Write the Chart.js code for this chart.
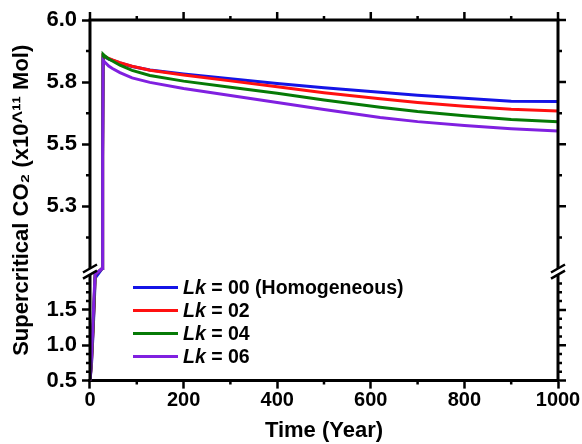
<!DOCTYPE html>
<html>
<head>
<meta charset="utf-8">
<script src="https://cdn.jsdelivr.net/npm/chart.js@4.4.0/dist/chart.umd.min.js"></script>
<style>
  html, body { margin: 0; padding: 0; background: #fff; }
  #wrap { position: relative; width: 582px; height: 444px; }
  #legend {
    position: absolute; left: 133px; top: 276px;
    font: bold 19.5px "Liberation Sans", Arial, sans-serif; color: #000;
  }
  .row { display: flex; align-items: center; height: 23px; white-space: nowrap; }
  .swatch { width: 45px; height: 3px; margin-right: 5px; }
</style>
</head>
<body>
<div id="wrap">
  <canvas id="co2Chart" width="582" height="444"></canvas>
  <div id="legend"></div>
</div>
<script>
// time axis (years)
var years = [0, 3, 6, 9, 11, 26, 27, 28, 32, 40, 48, 64, 90, 128, 200, 300, 400, 500, 620, 700, 800, 900, 1000];

// supercritical CO2 (x10^11 mol)
var lk00 = [0.5, 0.70, 1.10, 1.55, 1.95, 4.95, 5.45, 5.855, 5.850, 5.843, 5.838, 5.827, 5.813, 5.799, 5.783, 5.764, 5.744, 5.727, 5.709, 5.697, 5.685, 5.673, 5.672];
var lk02 = [0.5, 0.74, 1.15, 1.62, 2.02, 4.95, 5.46, 5.857, 5.853, 5.845, 5.839, 5.828, 5.814, 5.798, 5.779, 5.755, 5.731, 5.707, 5.683, 5.668, 5.653, 5.641, 5.634];
var lk04 = [0.5, 0.76, 1.18, 1.65, 2.05, 4.96, 5.48, 5.862, 5.855, 5.843, 5.835, 5.818, 5.797, 5.777, 5.754, 5.729, 5.705, 5.678, 5.649, 5.632, 5.615, 5.600, 5.591];
var lk06 = [0.5, 0.80, 1.25, 1.75, 2.10, 4.97, 5.45, 5.838, 5.830, 5.815, 5.805, 5.788, 5.767, 5.749, 5.724, 5.696, 5.668, 5.640, 5.608, 5.591, 5.575, 5.562, 5.553];

var seriesNames = ['00 (Homogeneous)', '02', '04', '06'];
var seriesColors = ['#1414e6', '#ff1010', '#067a06', '#8020e0'];

var yTickValues = [0.5, 1.0, 1.5, 5.25, 5.5, 5.75, 6.0];
var yMinorValues = [0.625, 0.75, 0.875, 1.125, 1.25, 1.375, 1.625, 1.75, 1.875, 5.125, 5.375, 5.625, 5.875];
var xMinorValues = [100, 300, 500, 700, 900];

Chart.defaults.font.family = '"Liberation Sans", Arial, sans-serif';
Chart.defaults.font.weight = 'bold';
Chart.defaults.color = '#000';

// linear scale with a cut between breakLow and breakHigh
class BrokenLinearScale extends Chart.LinearScale {
    static id = 'brokenLinear';

    _weights() {
        var o = this.options;
        return [o.lowWeight, o.gapWeight, o.highWeight];
    }

    getPixelForValue(value) {
        if (value === null || value === undefined || isNaN(value)) return NaN;
        var o = this.options;
        var w = this._weights();
        var total = w[0] + w[1] + w[2];
        var d;
        if (value <= o.breakLow) {
            d = (value - this.min) / (o.breakLow - this.min) * w[0];
        } else if (value < o.breakHigh) {
            d = w[0] + (value - o.breakLow) / (o.breakHigh - o.breakLow) * w[1];
        } else {
            d = w[0] + w[1] + (value - o.breakHigh) / (this.max - o.breakHigh) * w[2];
        }
        return this.getPixelForDecimal(d / total);
    }

    getValueForPixel(pixel) {
        var o = this.options;
        var w = this._weights();
        var total = w[0] + w[1] + w[2];
        var d = this.getDecimalForPixel(pixel) * total;
        if (d <= w[0]) return this.min + d / w[0] * (o.breakLow - this.min);
        if (d < w[0] + w[1]) return o.breakLow + (d - w[0]) / w[1] * (o.breakHigh - o.breakLow);
        return o.breakHigh + (d - w[0] - w[1]) / w[2] * (this.max - o.breakHigh);
    }
}
Chart.register(BrokenLinearScale);

function pointsFor(values) {
    return years.map(function (t, i) { return { x: t, y: values[i] }; });
}

var framePlugin = {
    id: 'frame',
    afterDraw: function (chart) {
        var ctx = chart.ctx;
        var a = chart.chartArea;
        var x = chart.scales.x;
        var y = chart.scales.y;
        var yHi = y.getPixelForValue(y.options.breakHigh);
        var yLo = y.getPixelForValue(y.options.breakLow);

        ctx.save();
        ctx.strokeStyle = '#000';
        ctx.lineCap = 'butt';

        // frame lines
        ctx.lineWidth = 3;
        ctx.beginPath();
        ctx.moveTo(a.left - 1.5, a.top); ctx.lineTo(a.right + 1.5, a.top);
        [a.left, a.right].forEach(function (px) {
            ctx.moveTo(px, a.top); ctx.lineTo(px, yHi);
            ctx.moveTo(px, yLo); ctx.lineTo(px, a.bottom);
        });
        ctx.stroke();

        // ticks
        ctx.lineWidth = 2.5;
        ctx.beginPath();
        yMinorValues.forEach(function (v) {
            var py = y.getPixelForValue(v);
            ctx.moveTo(a.left, py); ctx.lineTo(a.left - 4, py);
            ctx.moveTo(a.right, py); ctx.lineTo(a.right + 4, py);
        });
        yTickValues.forEach(function (v) {
            var py = y.getPixelForValue(v);
            ctx.moveTo(a.right, py); ctx.lineTo(a.right + 8, py);
        });
        x.ticks.forEach(function (t) {
            var px = x.getPixelForValue(t.value);
            ctx.moveTo(px, a.top); ctx.lineTo(px, a.top - 8);
        });
        xMinorValues.forEach(function (v) {
            var px = x.getPixelForValue(v);
            ctx.moveTo(px, a.top); ctx.lineTo(px, a.top - 4);
            ctx.moveTo(px, a.bottom); ctx.lineTo(px, a.bottom + 4);
        });
        ctx.stroke();

        // break marks
        ctx.lineWidth = 2.5;
        ctx.beginPath();
        [a.left, a.right].forEach(function (px) {
            [yHi, yLo].forEach(function (py) {
                ctx.moveTo(px - 7, py + 4); ctx.lineTo(px + 7, py - 4);
            });
        });
        ctx.stroke();
        ctx.restore();
    }
};

var ctx = document.getElementById('co2Chart').getContext('2d');
var allSeries = [lk00, lk02, lk04, lk06];

var co2Chart = new Chart(ctx, {
    type: 'line',
    data: {
        datasets: allSeries.map(function (values, i) {
            return {
                label: 'Lk = ' + seriesNames[i],
                data: pointsFor(values),
                borderColor: seriesColors[i],
                backgroundColor: seriesColors[i],
                borderWidth: 3,
                pointRadius: 0,
                tension: 0,
                fill: false,
                order: allSeries.length - i
            };
        })
    },
    options: {
        responsive: false,
        animation: false,
        layout: { padding: { left: 5, right: 24, top: 20, bottom: 0 } },
        plugins: {
            legend: { display: false },
            tooltip: { enabled: false }
        },
        scales: {
            x: {
                type: 'linear',
                position: 'bottom',
                min: 0,
                max: 1000,
                ticks: {
                    stepSize: 200,
                    font: { size: 20, weight: 'bold' },
                    padding: 0,
                    color: '#000',
                    callback: function (value) { return String(value); }
                },
                grid: { drawOnChartArea: false, drawTicks: true, tickLength: 8, tickWidth: 2.5, tickColor: '#000' },
                border: { display: true, color: '#000', width: 3 },
                title: {
                    display: true,
                    text: 'Time (Year)',
                    font: { size: 22, weight: 'bold' },
                    color: '#000',
                    padding: { top: 5, bottom: 0 }
                }
            },
            y: {
                type: 'brokenLinear',
                position: 'left',
                min: 0.5,
                max: 6.0,
                breakLow: 2.0,
                breakHigh: 5.0,
                lowWeight: 105,
                gapWeight: 6,
                highWeight: 246,
                afterBuildTicks: function (scale) {
                    scale.ticks = yTickValues.map(function (v) { return { value: v }; });
                },
                ticks: {
                    font: { size: 22, weight: 'bold' },
                    padding: 5,
                    color: '#000',
                    callback: function (value) { return Number(value).toFixed(1); }
                },
                grid: { drawOnChartArea: false, drawTicks: true, tickLength: 8, tickWidth: 2.5, tickColor: '#000' },
                border: { display: false },
                title: {
                    display: true,
                    text: 'Supercritical CO\u2082 (x10^\u00b9\u00b9 Mol)',
                    font: { size: 22, weight: 'bold' },
                    color: '#000',
                    padding: { top: 4, bottom: 6 }
                }
            }
        }
    },
    plugins: [framePlugin]
});

// legend with italic Lk
var legendBox = document.getElementById('legend');
seriesNames.forEach(function (name, i) {
    var row = document.createElement('div');
    row.className = 'row';
    var sw = document.createElement('span');
    sw.className = 'swatch';
    sw.style.background = seriesColors[i];
    var txt = document.createElement('span');
    txt.innerHTML = '<i>Lk</i> = ' + name;
    row.appendChild(sw);
    row.appendChild(txt);
    legendBox.appendChild(row);
});
</script>
</body>
</html>
